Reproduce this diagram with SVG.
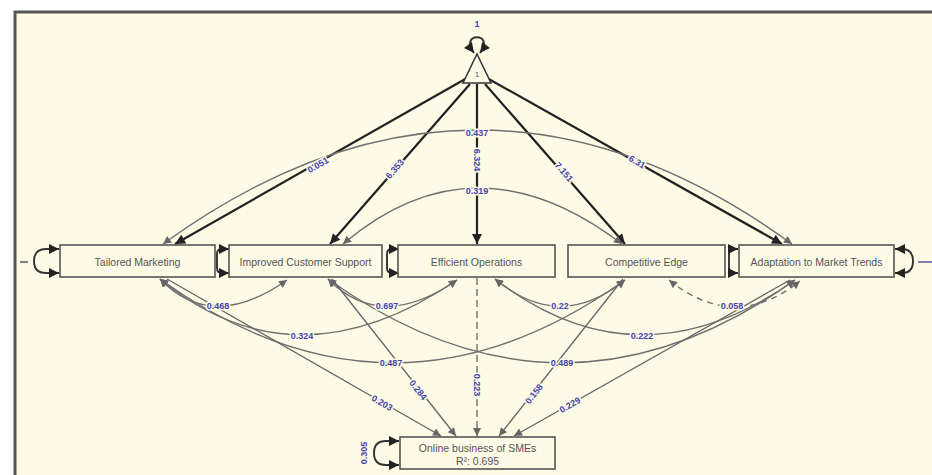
<svg xmlns="http://www.w3.org/2000/svg" width="932" height="475" viewBox="0 0 932 475">
<defs>
<style>
.frame{fill:#fdfae6;stroke:#555;stroke-width:3}
.box{fill:#fdfae6;stroke:#555;stroke-width:1.6}
.bt{font-family:"Liberation Sans",Arial,sans-serif;font-size:10.5px;fill:#555;text-anchor:middle;dominant-baseline:central}
.mean{fill:none;stroke:#222;stroke-width:2.2;marker-end:url(#ab)}
.cov{fill:none;stroke:#707070;stroke-width:1.4;marker-start:url(#ag);marker-end:url(#ag)}
.reg{fill:none;stroke:#666;stroke-width:1.3;marker-end:url(#ag)}
.var{fill:none;stroke:#333;stroke-width:1.9;marker-start:url(#ab);marker-end:url(#ab)}
.lb{font-family:"Liberation Sans",Arial,sans-serif;font-size:9px;font-weight:bold;fill:#4444b0;text-anchor:middle;dominant-baseline:central;stroke:#fdfae6;stroke-width:3;paint-order:stroke}
</style>
<marker id="ab" viewBox="0 0 10 10" refX="10" refY="5" markerWidth="11" markerHeight="10" markerUnits="userSpaceOnUse" orient="auto-start-reverse"><path d="M0,0 L10,5 L0,10 z" fill="#222"/></marker>
<marker id="ag" viewBox="0 0 10 10" refX="10" refY="5" markerWidth="9" markerHeight="8" markerUnits="userSpaceOnUse" orient="auto-start-reverse"><path d="M0,0 L10,5 L0,10 z" fill="#666"/></marker>
</defs>
<rect x="0" y="0" width="932" height="475" fill="#ffffff"/>
<rect class="frame" x="15" y="12" width="930" height="480"/>

<g id="connectors">
<!-- mean paths -->
<path class="mean" d="M467,78 L175,244"/>
<path class="mean" d="M470,84 L330,244"/>
<path class="mean" d="M477,84 L477,244"/>
<path class="mean" d="M485,84 L625,244"/>
<path class="mean" d="M487,78 L782,244"/>
<!-- top covariances -->
<path class="cov" d="M163,244 Q477,16 792,244"/>
<path class="cov" d="M343,244 Q475,132 622,244"/>
<!-- bottom covariances -->
<path class="cov" d="M160,279 Q212,333 287,280"/>
<path class="cov" d="M328,279 Q381,333 457,280"/>
<path class="cov" d="M495,279 Q560,333 625,280"/>
<path class="cov" d="M669,280 Q735,333 800,281" stroke-dasharray="6,5"/>
<path class="cov" d="M160,279 Q295,390 457,280"/>
<path class="cov" d="M495,279 Q639,390 795,280"/>
<path class="cov" d="M160,279 Q392,446 625,280"/>
<path class="cov" d="M328,279 Q562,446 795,280"/>
<!-- regressions -->
<path class="reg" d="M167,279 L441,436"/>
<path class="reg" d="M332,279 L456,436"/>
<path class="reg" d="M477,278 L477,436" stroke="#444" stroke-dasharray="7,4"/>
<path class="reg" d="M623,279 L499,436"/>
<path class="reg" d="M790,280 L514,436"/>
<!-- variances -->
<path class="var" d="M474,53 C458,32 496,32 480,53"/>
<path class="var" d="M59,249 L46,249 Q34,249 34,261 Q34,273 46,273 L59,273"/>
<path class="var" d="M229,249 L222,249 Q217,249 217,254 L217,268 Q217,273 222,273 L229,273"/>
<path class="var" d="M399,249 L392,249 Q387,249 387,254 L387,268 Q387,273 392,273 L399,273"/>
<path class="var" d="M738,249 L734,249 Q729,249 729,254 L729,268 Q729,273 734,273 L738,273"/>
<path class="var" d="M895,249 L902,249 Q913,249 913,261 Q913,273 902,273 L895,273"/>
<path class="var" d="M399,441 L386,441 Q374,441 374,453 Q374,465 386,465 L399,465"/>
<path d="M20,262 L28,262" stroke="#555" stroke-width="1.5"/>
<path d="M918,262 L932,262" stroke="#55a" stroke-width="1.5"/>
</g>

<g id="labels">
<text class="lb" x="477" y="24">1</text>
<text class="lb" x="477" y="133">0.437</text>
<text class="lb" x="477" y="191">0.319</text>
<text class="lb" transform="translate(318,165) rotate(-29.8)">0.051</text>
<text class="lb" transform="translate(395,169) rotate(-49)">6.353</text>
<text class="lb" transform="translate(477,160) rotate(90)">6.324</text>
<text class="lb" transform="translate(564,172) rotate(49)">7.151</text>
<text class="lb" transform="translate(637,162) rotate(29.5)">6.31</text>
<text class="lb" x="218" y="306">0.468</text>
<text class="lb" x="387" y="306">0.697</text>
<text class="lb" x="560" y="306">0.22</text>
<text class="lb" x="732" y="306">0.058</text>
<text class="lb" x="302" y="336">0.324</text>
<text class="lb" x="642" y="336">0.222</text>
<text class="lb" x="391" y="363">0.487</text>
<text class="lb" x="562" y="363">0.489</text>
<text class="lb" transform="translate(382,403) rotate(30)">0.203</text>
<text class="lb" transform="translate(418,390) rotate(52)">0.284</text>
<text class="lb" transform="translate(477,385) rotate(90)">0.223</text>
<text class="lb" transform="translate(534,394) rotate(-52)">0.158</text>
<text class="lb" transform="translate(570,405) rotate(-30)">0.229</text>
<text class="lb" transform="translate(364,453) rotate(-90)">0.305</text>
</g>

<g id="node-intercept">
<path d="M477,54 L491,83 L463,83 Z" fill="#fdfae6" stroke="#333" stroke-width="1.5"/>
<text x="477" y="74" font-family="Liberation Sans,Arial,sans-serif" font-size="8" fill="#555" text-anchor="middle" dominant-baseline="central">1</text>
</g>
<g id="node-tm"><rect class="box" x="60" y="245" width="155" height="32"/><text class="bt" x="137.5" y="262">Tailored Marketing</text></g>
<g id="node-ics"><rect class="box" x="229" y="245" width="153" height="32"/><text class="bt" x="305.5" y="262">Improved Customer Support</text></g>
<g id="node-eo"><rect class="box" x="398" y="245" width="157" height="32"/><text class="bt" x="476.5" y="262">Efficient Operations</text></g>
<g id="node-ce"><rect class="box" x="568" y="245" width="157" height="32"/><text class="bt" x="646.5" y="262">Competitive Edge</text></g>
<g id="node-amt"><rect class="box" x="739" y="245" width="155" height="32"/><text class="bt" x="816.5" y="262">Adaptation to Market Trends</text></g>
<g id="node-obs"><rect class="box" x="400" y="437" width="155" height="32"/><text class="bt" x="477.5" y="448">Online business of SMEs</text><text class="bt" x="477.5" y="461">R²: 0.695</text></g>
</svg>
